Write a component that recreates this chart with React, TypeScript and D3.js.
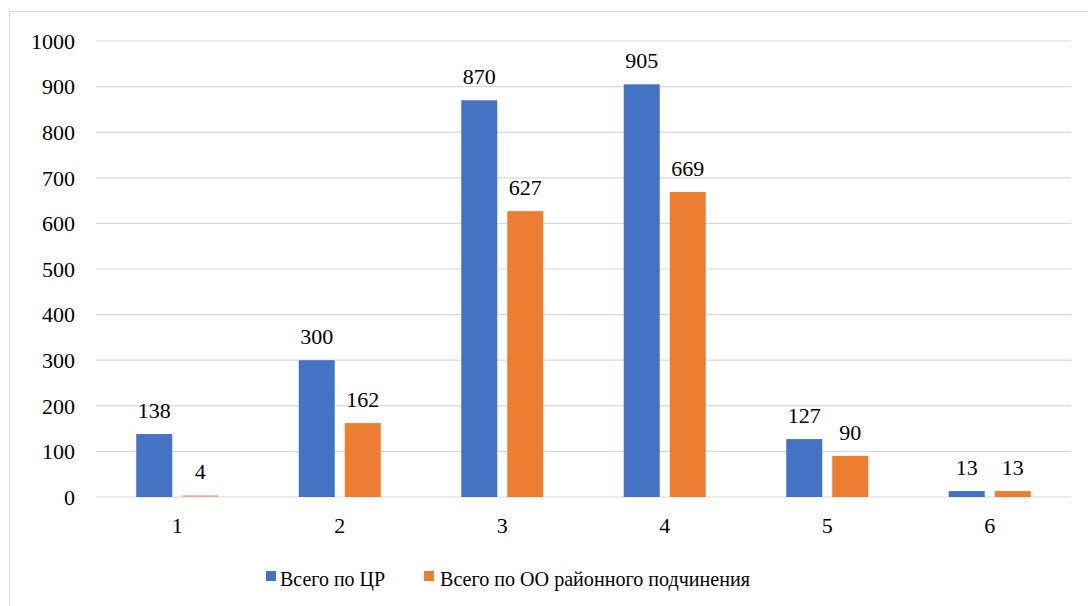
import * as d3 from "d3";

const categories = ["1", "2", "3", "4", "5", "6"];
const seriesNames = ["Всего по ЦР", "Всего по ОО районного подчинения"];
const centralValues = [138, 300, 870, 905, 127, 13];
const districtValues = [4, 162, 627, 669, 90, 13];
const yTicks = [0, 100, 200, 300, 400, 500, 600, 700, 800, 900, 1000];

const COLORS = ["#4472C4", "#ED7D31"];
const WIDTH = 1088;
const HEIGHT = 606;
const PLOT = { left: 96, right: 1071, top: 41, bottom: 497 };
const FONT = "Liberation Serif, Tinos, Times New Roman, DejaVu Serif, serif";
const txt = { fontFamily: FONT, fontSize: 22, fill: "#000" } as const;

export default function App() {
  const x = d3
    .scaleBand()
    .domain(categories)
    .range([PLOT.left, PLOT.right])
    .paddingInner(0.4954)
    .paddingOuter(0.2477);
  const sub = d3
    .scaleBand()
    .domain(["0", "1"])
    .range([0, x.bandwidth()])
    .paddingInner(0.217);
  const y = d3.scaleLinear().domain([0, 1000]).range([PLOT.bottom, PLOT.top]);

  const series = [centralValues, districtValues];

  return (
    <svg
      width={WIDTH}
      height={HEIGHT}
      style={{ position: "absolute", left: 0, top: 0, display: "block", background: "#fff" }}
    >
      <rect x={9.5} y={11.5} width={1200} height={700} fill="#fff" stroke="#D9D9D9" strokeWidth={1} />

      {/* grid + y labels */}
      {yTicks.map((t) => (
        <g key={t}>
          <line x1={PLOT.left} x2={PLOT.right} y1={y(t)} y2={y(t)} stroke="#D9D9D9" strokeWidth={1.2} />
          <text x={75} y={y(t)} dy="0.35em" textAnchor="end" style={txt}>
            {t}
          </text>
        </g>
      ))}

      {/* bars */}
      {series.map((vals, si) =>
        vals.map((v, i) => {
          const bx = (x(categories[i]) ?? 0) + (sub(String(si)) ?? 0);
          return (
            <g key={`${si}-${i}`}>
              <rect
                x={bx}
                y={y(v)}
                width={sub.bandwidth()}
                height={y(0) - y(v)}
                fill={COLORS[si]}
                opacity={v < 8 && si === 1 ? 0.55 : 1}
              />
              <text x={bx + sub.bandwidth() / 2} y={y(v) - 16} textAnchor="middle" style={txt}>
                {v}
              </text>
            </g>
          );
        })
      )}

      {/* x labels */}
      {categories.map((c) => (
        <text key={c} x={(x(c) ?? 0) + x.bandwidth() / 2} y={533} textAnchor="middle" style={txt}>
          {c}
        </text>
      ))}

      {/* legend */}
      <rect x={266} y={571} width={10} height={10} fill={COLORS[0]} />
      <text x={280} y={586} style={txt} textLength={105} lengthAdjust="spacingAndGlyphs">
        {seriesNames[0]}
      </text>
      <rect x={424} y={571} width={10} height={10} fill={COLORS[1]} />
      <text x={440} y={586} style={txt} textLength={310} lengthAdjust="spacingAndGlyphs">
        {seriesNames[1]}
      </text>
    </svg>
  );
}
